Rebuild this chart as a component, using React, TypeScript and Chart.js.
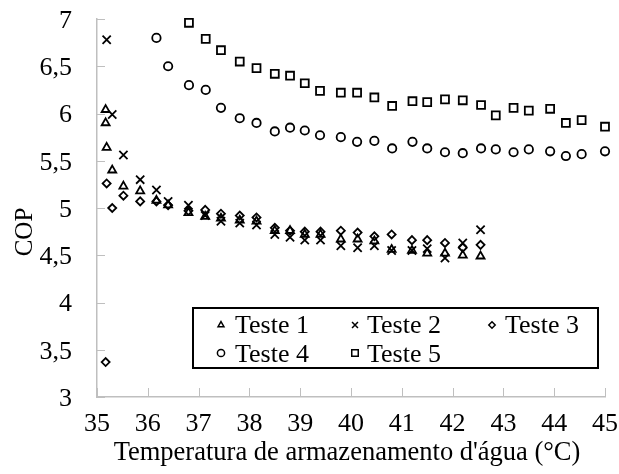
import { useEffect, useRef } from 'react';
import { Chart, registerables } from 'chart.js';

Chart.register(...registerables);

const FONT = '"Liberation Serif", "Times New Roman", serif';

const xTickValues = [35, 36, 37, 38, 39, 40, 41, 42, 43, 44, 45];
const yTickValues = [3, 3.5, 4, 4.5, 5, 5.5, 6, 6.5, 7];

const seriesNames = ['Teste 1', 'Teste 2', 'Teste 3', 'Teste 4', 'Teste 5'];

const t1x = [35.17, 35.17, 35.19, 35.3, 35.52, 35.85, 36.17, 36.4, 36.8, 37.13, 37.44, 37.81, 38.14, 38.5, 38.8, 39.09, 39.4, 39.8, 40.13, 40.46, 40.8, 41.2, 41.5, 41.85, 42.2, 42.55];
const t1y = [6.04, 5.9, 5.64, 5.4, 5.23, 5.18, 5.08, 5.03, 4.95, 4.91, 4.89, 4.87, 4.86, 4.76, 4.76, 4.72, 4.72, 4.67, 4.67, 4.65, 4.56, 4.55, 4.52, 4.52, 4.5, 4.49];

const t2x = [35.19, 35.3, 35.52, 35.85, 36.17, 36.4, 36.8, 37.13, 37.44, 37.81, 38.14, 38.5, 38.8, 39.09, 39.4, 39.8, 40.13, 40.46, 40.8, 41.2, 41.5, 41.85, 42.2, 42.55];
const t2y = [6.78, 5.99, 5.56, 5.3, 5.19, 5.07, 5.03, 4.92, 4.86, 4.84, 4.82, 4.72, 4.69, 4.66, 4.66, 4.6, 4.58, 4.6, 4.55, 4.55, 4.57, 4.47, 4.63, 4.77];

const t3x = [35.17, 35.19, 35.3, 35.52, 35.85, 36.17, 36.4, 36.8, 37.13, 37.44, 37.81, 38.14, 38.5, 38.8, 39.09, 39.4, 39.8, 40.13, 40.46, 40.8, 41.2, 41.5, 41.85, 42.2, 42.55];
const t3y = [3.37, 5.26, 5.0, 5.13, 5.07, 5.07, 5.03, 4.97, 4.98, 4.94, 4.92, 4.9, 4.79, 4.76, 4.75, 4.75, 4.76, 4.74, 4.7, 4.72, 4.66, 4.66, 4.63, 4.58, 4.61];

const t4x = [36.17, 36.4, 36.81, 37.14, 37.44, 37.81, 38.14, 38.5, 38.8, 39.09, 39.39, 39.8, 40.12, 40.46, 40.81, 41.21, 41.5, 41.85, 42.2, 42.56, 42.85, 43.2, 43.5, 43.92, 44.23, 44.54, 45.0];
const t4y = [6.8, 6.5, 6.3, 6.25, 6.06, 5.95, 5.9, 5.81, 5.85, 5.82, 5.77, 5.75, 5.7, 5.71, 5.63, 5.7, 5.63, 5.59, 5.58, 5.63, 5.62, 5.59, 5.62, 5.6, 5.55, 5.57, 5.6];

const t5x = [36.81, 37.14, 37.44, 37.81, 38.14, 38.5, 38.8, 39.09, 39.39, 39.8, 40.12, 40.46, 40.81, 41.21, 41.5, 41.85, 42.2, 42.56, 42.85, 43.2, 43.5, 43.92, 44.23, 44.54, 45.0];
const t5y = [6.96, 6.79, 6.67, 6.55, 6.48, 6.42, 6.4, 6.32, 6.24, 6.22, 6.22, 6.17, 6.08, 6.13, 6.12, 6.15, 6.14, 6.09, 5.98, 6.06, 6.03, 6.05, 5.9, 5.93, 5.86];

const pts = (xs: number[], ys: number[]) => xs.map((x, i) => ({ x, y: ys[i] }));

const xTitle = "Temperatura de armazenamento d'água (°C)";
const yTitle = 'COP';

const styles = [
  { pointStyle: 'triangle', radius: 4.6 },
  { pointStyle: 'crossRot', radius: 5.8 },
  { pointStyle: 'rectRot', radius: 4 },
  { pointStyle: 'circle', radius: 4.2 },
  { pointStyle: 'rect', radius: 5.6 },
];

function drawMarker(ctx: CanvasRenderingContext2D, style: string, x: number, y: number, r: number) {
  ctx.beginPath();
  if (style === 'triangle') {
    ctx.moveTo(x, y - r);
    ctx.lineTo(x + r * 0.866, y + r * 0.5);
    ctx.lineTo(x - r * 0.866, y + r * 0.5);
    ctx.closePath();
  } else if (style === 'crossRot') {
    const d = r * 0.707;
    ctx.moveTo(x - d, y - d);
    ctx.lineTo(x + d, y + d);
    ctx.moveTo(x + d, y - d);
    ctx.lineTo(x - d, y + d);
  } else if (style === 'rectRot') {
    ctx.moveTo(x, y - r);
    ctx.lineTo(x + r, y);
    ctx.lineTo(x, y + r);
    ctx.lineTo(x - r, y);
    ctx.closePath();
  } else if (style === 'circle') {
    ctx.arc(x, y, r, 0, Math.PI * 2);
  } else {
    const s = r * 0.707;
    ctx.rect(x - s, y - s, 2 * s, 2 * s);
  }
  ctx.stroke();
}

const decorPlugin = {
  id: 'decor',
  afterDraw(chart: any) {
    const ctx: CanvasRenderingContext2D = chart.ctx;
    const xs = chart.scales.x;
    const ys = chart.scales.y;
    const area = chart.chartArea;
    ctx.save();
    // inner tick marks
    ctx.strokeStyle = '#bfbfbf';
    ctx.lineWidth = 1;
    ctx.beginPath();
    xTickValues.forEach((v) => {
      const px = Math.round(xs.getPixelForValue(v)) + 0.5;
      ctx.moveTo(px, area.bottom);
      ctx.lineTo(px, area.bottom - 9);
    });
    yTickValues.forEach((v) => {
      const py = Math.round(ys.getPixelForValue(v)) + 0.5;
      ctx.moveTo(area.left, py);
      ctx.lineTo(area.left + 8, py);
    });
    ctx.stroke();

    // axis titles
    ctx.fillStyle = '#000';
    ctx.font = `26.5px ${FONT}`;
    ctx.textAlign = 'center';
    ctx.textBaseline = 'alphabetic';
    ctx.fillText(xTitle, 347, 460);
    ctx.font = `25px ${FONT}`;
    ctx.save();
    ctx.translate(32, 232);
    ctx.rotate(-Math.PI / 2);
    ctx.fillText(yTitle, 0, 0);
    ctx.restore();

    // legend
    const bx = 193, by = 308, bw = 405, bh = 60;
    ctx.fillStyle = '#fff';
    ctx.fillRect(bx, by, bw, bh);
    ctx.strokeStyle = '#000';
    ctx.lineWidth = 2;
    ctx.strokeRect(bx, by, bw, bh);
    const cols = [
      { mx: 221, tx: 235 },
      { mx: 355, tx: 367 },
      { mx: 492, tx: 505 },
    ];
    const rows = [{ my: 325, ty: 333 }, { my: 353, ty: 362 }];
    const legendR = [3.4, 4.2, 3.2, 3.6, 4.6];
    seriesNames.forEach((name, i) => {
      const c = cols[i % 3];
      const r = rows[Math.floor(i / 3)];
      ctx.strokeStyle = '#000';
      ctx.lineWidth = 1.5;
      drawMarker(ctx, styles[i].pointStyle, c.mx, r.my, legendR[i]);
      ctx.fillStyle = '#000';
      ctx.textAlign = 'left';
      ctx.textBaseline = 'alphabetic';
      ctx.font = `26px ${FONT}`;
      ctx.fillText(name, c.tx, r.ty);
    });
    ctx.restore();
  },
};

export default function App() {
  const ref = useRef<HTMLCanvasElement | null>(null);
  useEffect(() => {
    document.body.style.margin = '0';
    const canvas = ref.current;
    if (!canvas) return;
    const data = [pts(t1x, t1y), pts(t2x, t2y), pts(t3x, t3y), pts(t4x, t4y), pts(t5x, t5y)];
    const chart = new Chart(canvas, {
      type: 'scatter',
      data: {
        datasets: data.map((d, i) => ({
          label: seriesNames[i],
          data: d,
          pointStyle: styles[i].pointStyle as any,
          pointRadius: styles[i].radius,
          pointHoverRadius: styles[i].radius,
          borderColor: '#000',
          backgroundColor: 'rgba(0,0,0,0)',
          borderWidth: 1.8,
          showLine: false,
          clip: false as any,
        })),
      },
      options: {
        responsive: false,
        animation: false,
        layout: { padding: { left: 0, right: 14, top: 19, bottom: 0 } },
        plugins: {
          legend: { display: false },
          tooltip: { enabled: false },
        },
        scales: {
          x: {
            type: 'linear',
            min: 35,
            max: 45,
            afterFit: (s: any) => {
              s.height = 77;
              s.paddingLeft = 0;
              s.paddingRight = 0;
            },
            afterBuildTicks: (s: any) => {
              s.ticks = xTickValues.map((v) => ({ value: v }));
            },
            grid: { display: false, drawTicks: false },
            border: { display: true, color: '#bfbfbf', width: 1.5 },
            ticks: {
              color: '#000',
              font: { family: FONT, size: 26 },
              padding: 12,
              maxRotation: 0,
              autoSkip: false,
            },
            title: { display: false },
          },
          y: {
            type: 'linear',
            min: 3,
            max: 7,
            afterFit: (s: any) => {
              s.width = 97;
              s.paddingTop = 0;
              s.paddingBottom = 0;
            },
            afterBuildTicks: (s: any) => {
              s.ticks = yTickValues.map((v) => ({ value: v }));
            },
            grid: { display: false, drawTicks: false },
            border: { display: true, color: '#bfbfbf', width: 1.5 },
            ticks: {
              color: '#000',
              font: { family: FONT, size: 26 },
              padding: 25,
              labelOffset: 2,
              autoSkip: false,
              callback: (v: any) => String(v).replace('.', ','),
            },
            title: { display: false },
          },
        },
      },
      plugins: [decorPlugin],
    });
    return () => chart.destroy();
  }, []);
  return (
    <div style={{ width: 619, height: 474 }}>
      <canvas ref={ref} width={619} height={474} style={{ display: 'block', width: 619, height: 474 }} />
    </div>
  );
}
